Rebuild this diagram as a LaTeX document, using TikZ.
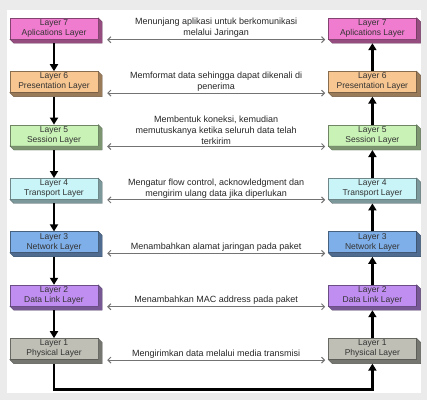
\documentclass[tikz,border=0pt]{standalone}
\usepackage{fontspec}
\setmainfont{Liberation Sans}
\usetikzlibrary{arrows.meta, positioning}
\definecolor{apppink}{HTML}{F07CCF}
\definecolor{presorange}{HTML}{F8C690}
\definecolor{sessgreen}{HTML}{C9F2B6}
\definecolor{transcyan}{HTML}{C9F5F8}
\definecolor{netblue}{HTML}{7FAFE8}
\definecolor{linkpurple}{HTML}{C08EF0}
\definecolor{physgray}{HTML}{BFBFB6}
\tikzset{
    layerbox/.style={rectangle, draw=#1!55!black, fill=#1, minimum width=88pt, minimum height=21pt, inner sep=0pt, align=center, font=\fontsize{8.5}{10}\selectfont, text=black!80},
    sidebox/.style={fill=#1!62!black, draw=#1!45!black, line width=0.3pt},
    stackarrow/.style={-{Triangle[length=7pt, width=8pt]}, line width=2.5pt, draw=black},
    infoarrow/.style={{Straight Barb[length=3pt]}-{Straight Barb[length=3pt]}, line width=1pt, draw=black!55},
    infotext/.style={align=center, font=\fontsize{9}{11}\selectfont, text=black!85, inner sep=1.5pt}
}
\begin{document}
\begin{tikzpicture}[x=1pt, y=-1pt, node distance=32pt and 230pt]
        \fill[black!8] (0,0) rectangle (427,400);
        \fill[white] (7,10) rectangle (421,393);
        \useasboundingbox (0,0) rectangle (427,400);

        % sender stack
        \node[layerbox=apppink] (l7) at (54,28.5) {Layer 7\\Aplications Layer};
        \node[layerbox=presorange, below=of l7] (l6) {Layer 6\\Presentation Layer};
        \node[layerbox=sessgreen, below=of l6] (l5) {Layer 5\\Session Layer};
        \node[layerbox=transcyan, below=of l5] (l4) {Layer 4\\Transport Layer};
        \node[layerbox=netblue, below=of l4] (l3) {Layer 3\\Network Layer};
        \node[layerbox=linkpurple, below=of l3] (l2) {Layer 2\\Data Link Layer};
        \node[layerbox=physgray, below=of l2] (l1) {Layer 1\\Physical Layer};

        % receiver stack
        \node[layerbox=apppink, right=of l7] (r7) {Layer 7\\Aplications Layer};
        \node[layerbox=presorange, right=of l6] (r6) {Layer 6\\Presentation Layer};
        \node[layerbox=sessgreen, right=of l5] (r5) {Layer 5\\Session Layer};
        \node[layerbox=transcyan, right=of l4] (r4) {Layer 4\\Transport Layer};
        \node[layerbox=netblue, right=of l3] (r3) {Layer 3\\Network Layer};
        \node[layerbox=linkpurple, right=of l2] (r2) {Layer 2\\Data Link Layer};
        \node[layerbox=physgray, right=of l1] (r1) {Layer 1\\Physical Layer};

        % 3d sides of the boxes
        \foreach \n/\c in {l7/apppink, l6/presorange, l5/sessgreen, l4/transcyan, l3/netblue, l2/linkpurple, l1/physgray,
                           r7/apppink, r6/presorange, r5/sessgreen, r4/transcyan, r3/netblue, r2/linkpurple, r1/physgray}
            \filldraw[sidebox=\c] (\n.north east) -- ++(4,4) -- ([shift={(4,4)}]\n.south east) -- ([shift={(4,4)}]\n.south west) -- (\n.south west) -- (\n.south east) -- cycle;

        % down and up the stacks
        \foreach \a/\b in {l7/l6, l6/l5, l5/l4, l4/l3, l3/l2, l2/l1}
            \draw[stackarrow] ([yshift=-4pt]\a.south) -- (\b.north);
        \foreach \a/\b in {r6/r7, r5/r6, r4/r5, r3/r4, r2/r3, r1/r2}
            \draw[stackarrow] (\a.north) -- ([yshift=-4pt]\b.south);
        \draw[stackarrow] ([yshift=-4pt]l1.south) -- ++(0,26) -| ([yshift=-4pt]r1.south);

        % peer to peer
        \draw[infoarrow] ([shift={(9,0.5)}]l7.south east) -- ([shift={(-3,0.5)}]r7.south west)
            node[midway, above, infotext] {Menunjang aplikasi untuk berkomunikasi\\melalui Jaringan};
        \draw[infoarrow] ([shift={(9,0.5)}]l6.south east) -- ([shift={(-3,0.5)}]r6.south west)
            node[midway, above, infotext] {Memformat data sehingga dapat dikenali di\\penerima};
        \draw[infoarrow] ([shift={(9,0.5)}]l5.south east) -- ([shift={(-3,0.5)}]r5.south west)
            node[midway, above, infotext] {Membentuk koneksi, kemudian\\memutuskanya ketika seluruh data telah\\terkirim};
        \draw[infoarrow] ([shift={(9,0.5)}]l4.south east) -- ([shift={(-3,0.5)}]r4.south west)
            node[midway, above, infotext] {Mengatur flow control, acknowledgment dan\\mengirim ulang data jika diperlukan};
        \draw[infoarrow] ([shift={(9,0.5)}]l3.south east) -- ([shift={(-3,0.5)}]r3.south west)
            node[midway, above, infotext] {Menambahkan alamat jaringan pada paket};
        \draw[infoarrow] ([shift={(9,0.5)}]l2.south east) -- ([shift={(-3,0.5)}]r2.south west)
            node[midway, above, infotext] {Menambahkan MAC address pada paket};
        \draw[infoarrow] ([shift={(9,0.5)}]l1.south east) -- ([shift={(-3,0.5)}]r1.south west)
            node[midway, above, infotext] {Mengirimkan data melalui media transmisi};
\end{tikzpicture}
\end{document}
